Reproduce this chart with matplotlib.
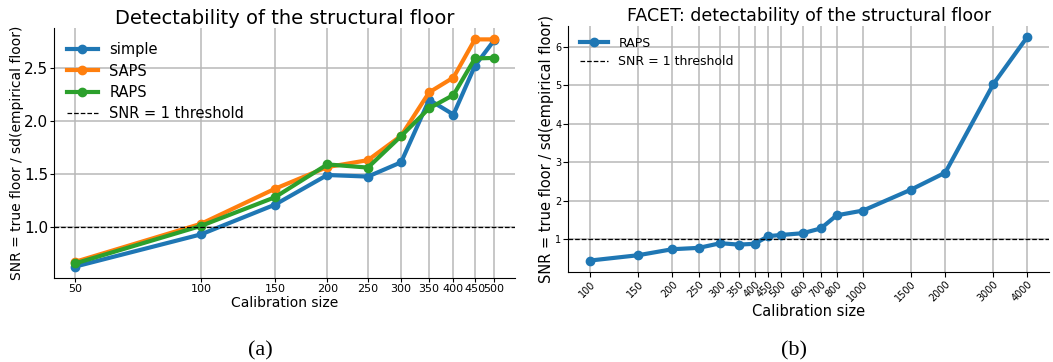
import matplotlib
matplotlib.use("Agg")
import matplotlib.pyplot as plt

# Panel (a): three methods over calibration sizes
cal_sizes = [50, 100, 150, 200, 250, 300, 350, 400, 450, 500]
snr_simple = [0.625, 0.93, 1.21, 1.49, 1.475, 1.61, 2.20, 2.06, 2.52, 2.76]
snr_saps = [0.67, 1.03, 1.36, 1.565, 1.63, 1.86, 2.27, 2.41, 2.77, 2.77]
snr_raps = [0.655, 1.01, 1.28, 1.59, 1.56, 1.857, 2.12, 2.245, 2.59, 2.595]

# Panel (b): FACET, RAPS only
facet_sizes = [100, 150, 200, 250, 300, 350, 400, 450, 500, 600, 700, 800,
               1000, 1500, 2000, 3000, 4000]
facet_raps = [0.446, 0.584, 0.74, 0.775, 0.896, 0.86, 0.88, 1.08, 1.11, 1.155,
              1.28, 1.62, 1.745, 2.29, 2.73, 5.03, 6.26]

fig = plt.figure(figsize=(10.53, 3.62), dpi=100)
ax1 = fig.add_axes([0.0513, 0.232, 0.4378, 0.6906])
ax2 = fig.add_axes([0.5397, 0.2494, 0.4568, 0.680])

grid_kw = dict(color="0.72", linewidth=1.1)

# --- left panel ---
ax1.plot(cal_sizes, snr_simple, "-o", color="C0", lw=3, ms=6, label="simple")
ax1.plot(cal_sizes, snr_saps, "-o", color="C1", lw=3, ms=6, label="SAPS")
ax1.plot(cal_sizes, snr_raps, "-o", color="C2", lw=3, ms=6, label="RAPS")
ax1.axhline(1.0, color="black", ls="--", lw=0.9, label="SNR = 1 threshold")
ax1.set_xscale("log")
ax1.set_xticks(cal_sizes, [str(v) for v in cal_sizes], fontsize=8)
ax1.minorticks_off()
ax1.set_yticks([1.0, 1.5, 2.0, 2.5])
ax1.tick_params(axis="y", labelsize=11, pad=1, length=3)
ax1.tick_params(axis="x", pad=1.5, length=3)
ax1.grid(True, **grid_kw)
ax1.set_axisbelow(True)
for s in ("top", "right"):
    ax1.spines[s].set_visible(False)
ax1.set_title("Detectability of the structural floor", fontsize=14, pad=3)
ax1.set_xlabel("Calibration size", fontsize=10, labelpad=1)
ax1.set_ylabel("SNR = true floor / sd(empirical floor)", fontsize=10, labelpad=0)
ax1.legend(loc="upper left", frameon=False, fontsize=10.5, handlelength=2.1,
           labelspacing=0.42, bbox_to_anchor=(0.0, 0.995))

# --- right panel ---
ax2.plot(facet_sizes, facet_raps, "-o", color="C0", lw=3, ms=6, label="RAPS")
ax2.axhline(1.0, color="black", ls="--", lw=0.9, label="SNR = 1 threshold")
ax2.set_xscale("log")
ax2.set_xticks(facet_sizes, [str(v) for v in facet_sizes], fontsize=7,
               rotation=45, ha="right", rotation_mode="anchor")
ax2.minorticks_off()
ax2.set_yticks([1, 2, 3, 4, 5, 6])
ax2.tick_params(axis="y", labelsize=7, pad=1.5)
ax2.tick_params(axis="x", pad=2)
ax2.grid(True, **grid_kw)
ax2.set_axisbelow(True)
for s in ("top", "right"):
    ax2.spines[s].set_visible(False)
ax2.set_title("FACET: detectability of the structural floor", fontsize=12.5, pad=3)
ax2.set_xlabel("Calibration size", fontsize=10.5, labelpad=0)
ax2.set_ylabel("SNR = true floor / sd(empirical floor)", fontsize=10.5, labelpad=1)
ax2.legend(loc="upper left", frameon=False, fontsize=9, handlelength=2.3,
           labelspacing=0.45)

# subfigure captions
fig.text(0.2474, 0.017, "(a)", fontsize=16, family="Liberation Serif", ha="center")
fig.text(0.7536, 0.017, "(b)", fontsize=16, family="Liberation Serif", ha="center")

fig.savefig("out.png", dpi=100)
